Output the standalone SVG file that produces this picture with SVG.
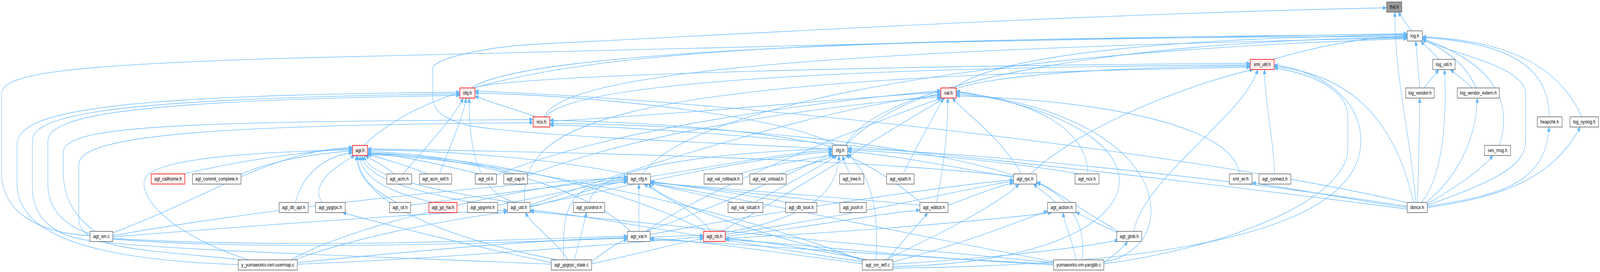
<svg xmlns="http://www.w3.org/2000/svg" width="5279" height="696" viewBox="0 0 5279 696" preserveAspectRatio="none" style="width:100%;height:100%">
<style>
.e{fill:none;stroke:#63b8ff;stroke-width:1.33;marker-end:url(#ah)}
.n rect{fill:#ffffff;stroke:#666666;stroke-width:1.6}
.r rect{fill:#fff0f0;stroke:#ff0000}
.root rect{fill:#999999}
text{font-family:"Liberation Sans",Arial,sans-serif;font-size:13.33px;text-anchor:middle;fill:#000000}
</style>
<defs>
<marker id="ah" markerUnits="userSpaceOnUse" markerWidth="13" markerHeight="10" refX="12" refY="5" orient="auto" viewBox="0 0 13 10">
<path d="M0,0 L12,5 L0,10 z" fill="#63b8ff" stroke="#63b8ff"/>
</marker>
</defs>
<rect x="0" y="0" width="5279" height="696" fill="#ffffff"/>
<g id="edges">
<path class="e" d="M4657,79 C4642,62 4626,46 4613,31"/>
<path class="e" d="M4672,518 C4650,330 4602,200 4602,31"/>
<path class="e" d="M2746,382 C2400,365 1800,352 1550,322 C1460,305 1428,280 1428,250 L1428,175 C1428,150 1600,120 1770,113 C2500,85 3600,35 4575,20"/>
<path class="e" d="M297,603 C120,596 5,540 5,440 L5,240 C5,190 200,165 1000,148 C2000,125 3500,100 4643,86"/>
<path class="e" d="M4677,518 C4680,420 4684,320 4684,251"/>
<path class="e" d="M4690,518 C4772,440 4772,260 4766,178"/>
<path class="e" d="M4705,518 C4800,460 4872,360 4874,251"/>
<path class="e" d="M4709,522 C4800,480 4880,440 4926,398"/>
<path class="e" d="M4709,525 C4950,460 5034,420 5034,360 L5034,240 C5034,170 4800,140 4693,101"/>
<path class="e" d="M4709,528 C4950,500 5100,470 5111,325"/>
<path class="e" d="M4709,531 C4950,505 5120,460 5214,325"/>
<path class="e" d="M4748,152 C4730,135 4705,120 4688,105"/>
<path class="e" d="M4684,225 C4680,180 4675,140 4671,105"/>
<path class="e" d="M4870,225 C4840,170 4780,130 4693,101"/>
<path class="e" d="M4947,372 C4985,280 4960,170 4693,99"/>
<path class="e" d="M5112,299 C5110,180 5000,110 4693,96"/>
<path class="e" d="M5219,299 C5150,180 5000,105 4693,94"/>
<path class="e" d="M4698,225 C4720,205 4735,190 4747,178"/>
<path class="e" d="M4858,225 C4830,205 4805,190 4785,178"/>
<path class="e" d="M4200,152 C4350,118 4500,95 4643,92"/>
<path class="e" d="M1555,225 C1700,150 2500,100 4643,88"/>
<path class="e" d="M3150,225 C3300,130 4000,95 4643,90"/>
<path class="e" d="M1200,372 C1500,150 2200,95 4643,94"/>
<path class="e" d="M2790,372 C2900,200 3800,100 4643,96"/>
<path class="e" d="M1795,299 C1850,200 2500,130 4643,97"/>
<path class="e" d="M2120,445 C2250,300 3000,140 4643,99"/>
<path class="e" d="M1562,225 C1700,190 3000,168 4125,162"/>
<path class="e" d="M1800,299 C1900,200 3000,172 4125,166"/>
<path class="e" d="M3152,228 C3300,185 3800,170 4125,169"/>
<path class="e" d="M1730,518 C1725,330 1900,200 4125,172"/>
<path class="e" d="M4206,445 C4200,350 4172,250 4172,178"/>
<path class="e" d="M4664,518 C4600,300 4450,190 4204,170"/>
<path class="e" d="M3740,592 C3780,450 4100,300 4150,178"/>
<path class="e" d="M3642,675 C4000,640 4447,520 4447,380 L4447,300 C4447,220 4300,185 4204,174"/>
<path class="e" d="M2946,686 C3800,680 4490,600 4490,360 C4490,250 4350,180 4204,166"/>
<path class="e" d="M3400,445 C3600,300 4000,200 4135,178"/>
<path class="e" d="M1768,299 C1700,280 1620,262 1567,246"/>
<path class="e" d="M1330,445 C1400,380 1500,300 1528,251"/>
<path class="e" d="M1450,445 C1480,380 1530,300 1538,251"/>
<path class="e" d="M1700,518 C1560,490 1548,350 1548,251"/>
<path class="e" d="M786,677 C300,665 56,600 56,470 L56,370 C56,280 400,244 1517,236"/>
<path class="e" d="M1819,676 C1200,655 500,640 274,613 C180,600 107,560 107,480 L107,360 C107,290 400,252 1517,240"/>
<path class="e" d="M297,598 C220,580 158,540 158,470 L158,360 C158,290 500,256 1517,244"/>
<path class="e" d="M2760,372 C2600,300 2000,245 1567,238"/>
<path class="e" d="M4650,520 C4000,400 2500,260 1567,233"/>
<path class="e" d="M2790,372 C2850,320 3000,250 3104,240"/>
<path class="e" d="M2980,445 C3020,380 3080,300 3112,251"/>
<path class="e" d="M3090,518 C3120,400 3127,320 3127,251"/>
<path class="e" d="M3589,445 C3590,330 3400,250 3155,241"/>
<path class="e" d="M3370,445 C3300,350 3200,300 3142,251"/>
<path class="e" d="M4090,445 C4070,330 3700,260 3155,245"/>
<path class="e" d="M2380,592 C2600,500 3000,300 3118,251"/>
<path class="e" d="M2130,592 C2400,450 3000,280 3106,251"/>
<path class="e" d="M3642,670 C3900,640 3900,300 3155,236"/>
<path class="e" d="M2946,682 C3850,670 3950,330 3155,233"/>
<path class="e" d="M1749,525 C2200,400 2800,262 3104,244"/>
<path class="e" d="M1814,310 C2300,290 2800,250 3104,236"/>
<path class="e" d="M1638,448 C2000,330 2700,260 3104,232"/>
<path class="e" d="M1740,450 C2100,340 2700,270 3104,248"/>
<path class="e" d="M312,592 C260,560 209,520 209,440 L209,390 C209,320 600,312 1759,306"/>
<path class="e" d="M800,665 C500,640 260,640 260,560 L260,420 C260,340 800,320 1759,314"/>
<path class="e" d="M2750,376 C2500,330 2100,312 1814,308"/>
<path class="e" d="M3350,450 C3000,360 2300,318 1814,316"/>
<path class="e" d="M4643,535 C4000,470 2500,330 1814,320"/>
<path class="e" d="M605,445 C800,410 1000,388 1163,380"/>
<path class="e" d="M790,447 C900,410 1050,392 1163,386"/>
<path class="e" d="M975,518 C1000,440 1080,398 1163,391"/>
<path class="e" d="M1300,445 C1270,425 1230,410 1205,398"/>
<path class="e" d="M1410,445 C1330,420 1260,405 1213,395"/>
<path class="e" d="M1580,445 C1450,420 1300,395 1213,391"/>
<path class="e" d="M1700,445 C1550,410 1350,390 1213,388"/>
<path class="e" d="M1063,518 C1020,470 1110,425 1170,398"/>
<path class="e" d="M1310,518 C1250,495 1180,460 1180,398"/>
<path class="e" d="M1430,518 C1300,495 1190,460 1188,398"/>
<path class="e" d="M1560,518 C1400,495 1200,460 1195,398"/>
<path class="e" d="M1690,518 C1500,495 1210,460 1202,398"/>
<path class="e" d="M2080,448 C1800,400 1400,384 1213,384"/>
<path class="e" d="M372,596 C700,500 900,385 1163,377"/>
<path class="e" d="M820,665 C560,600 450,500 480,455 C520,400 900,388 1163,383"/>
<path class="e" d="M1840,665 C1400,600 1180,500 1175,398"/>
<path class="e" d="M3350,452 C2800,400 1600,386 1213,381"/>
<path class="e" d="M2080,592 C1900,450 1400,390 1213,392"/>
<path class="e" d="M2330,592 C2000,460 1500,394 1213,394"/>
<path class="e" d="M2850,668 C2300,500 1500,398 1213,396"/>
<path class="e" d="M2146,452 C2400,420 2600,390 2746,384"/>
<path class="e" d="M2440,445 C2550,420 2680,405 2748,396"/>
<path class="e" d="M2570,445 C2650,425 2720,410 2756,398"/>
<path class="e" d="M2804,445 C2795,430 2785,415 2781,398"/>
<path class="e" d="M2490,518 C2600,470 2720,420 2762,398"/>
<path class="e" d="M2393,595 C2650,560 2765,500 2768,398"/>
<path class="e" d="M2890,665 C2900,550 2880,450 2797,394"/>
<path class="e" d="M3350,455 C3100,420 2900,392 2797,388"/>
<path class="e" d="M3560,445 C3300,410 2950,388 2797,384"/>
<path class="e" d="M2130,592 C2400,520 2650,430 2746,392"/>
<path class="e" d="M1749,528 C2100,470 2500,400 2746,388"/>
<path class="e" d="M4643,528 C4000,450 3200,390 2797,380"/>
<path class="e" d="M3040,520 C2950,460 2850,415 2790,398"/>
<path class="e" d="M1945,518 C1960,420 2400,390 2746,380"/>
<path class="e" d="M2108,592 L2108,471"/>
<path class="e" d="M2345,592 C2300,540 2180,500 2125,471"/>
<path class="e" d="M2420,518 C2300,495 2200,480 2146,468"/>
<path class="e" d="M2600,518 C2400,490 2200,470 2146,464"/>
<path class="e" d="M2780,520 C2500,495 2250,475 2146,466"/>
<path class="e" d="M1749,530 C1900,500 2000,470 2070,463"/>
<path class="e" d="M1355,525 C1700,490 1950,465 2070,458"/>
<path class="e" d="M1642,525 C1850,495 1980,466 2070,460"/>
<path class="e" d="M372,603 C900,530 1700,465 2070,455"/>
<path class="e" d="M960,665 C1200,560 1800,470 2070,452"/>
<path class="e" d="M1860,665 C1855,560 1870,500 1950,480 C2000,468 2040,466 2070,466"/>
<path class="e" d="M2860,665 C2500,600 2200,520 2140,471"/>
<path class="e" d="M3480,670 C3000,600 2400,500 2146,469"/>
<path class="e" d="M3035,525 C2700,500 2300,478 2146,467"/>
<path class="e" d="M3482,518 C3460,500 3430,485 3410,471"/>
<path class="e" d="M3690,592 C3550,530 3470,480 3420,466"/>
<path class="e" d="M3570,665 C3590,560 3500,490 3420,468"/>
<path class="e" d="M3550,665 C3540,620 3515,580 3507,544"/>
<path class="e" d="M2920,665 C3100,600 3300,520 3362,471"/>
<path class="e" d="M3128,525 C3250,490 3300,475 3344,468"/>
<path class="e" d="M2393,600 C2900,540 3200,480 3344,463"/>
<path class="e" d="M2145,600 C2700,520 3200,470 3344,460"/>
<path class="e" d="M4643,531 C4450,510 4250,480 4131,468"/>
<path class="e" d="M1873,665 C1840,620 1760,580 1733,544"/>
<path class="e" d="M372,606 C800,580 1400,545 1674,538"/>
<path class="e" d="M2850,670 C2400,620 1900,545 1749,538"/>
<path class="e" d="M3476,672 C3000,640 2000,560 1749,541"/>
<path class="e" d="M970,665 C1200,600 1500,560 1674,542"/>
<path class="e" d="M1895,665 C1910,620 1925,580 1935,544"/>
<path class="e" d="M1819,672 C1500,620 1250,570 1130,544"/>
<path class="e" d="M2393,605 C2700,580 2900,545 3035,538"/>
<path class="e" d="M2930,665 C2980,610 3040,570 3060,544"/>
<path class="e" d="M3690,596 C3620,572 3580,556 3550,542"/>
<path class="e" d="M2946,670 C3200,620 3380,560 3456,540"/>
<path class="e" d="M2393,610 C2900,590 3300,560 3470,544"/>
<path class="e" d="M372,610 C1000,640 1800,610 2070,604"/>
<path class="e" d="M981,672 C1400,640 1800,612 2070,608"/>
<path class="e" d="M1952,670 C2000,640 2040,620 2070,612"/>
<path class="e" d="M2845,675 C2600,650 2300,615 2145,610"/>
<path class="e" d="M3476,675 C3000,660 2400,620 2145,613"/>
<path class="e" d="M1952,675 C2100,650 2250,620 2321,610"/>
<path class="e" d="M981,676 C1500,660 2100,620 2321,606"/>
<path class="e" d="M372,612 C1000,650 2000,610 2321,602"/>
<path class="e" d="M2860,665 C2700,640 2500,615 2393,610"/>
<path class="e" d="M3476,678 C3000,660 2600,620 2393,613"/>
<path class="e" d="M3642,672 C3680,650 3710,630 3720,618"/>
<path class="e" d="M2946,676 C3300,660 3600,630 3690,614"/>
</g>
<g id="n-thd" class="n root"><rect x="4575" y="5" width="50" height="26"/><text x="4600" y="22.5">thd.h</text></g>
<g id="n-log" class="n"><rect x="4643" y="79" width="50" height="26"/><text x="4668" y="96.5">log.h</text></g>
<g id="n-log_util" class="n"><rect x="4727" y="152" width="74" height="26"/><text x="4764" y="169.5">log_util.h</text></g>
<g id="n-xml_util" class="n r"><rect x="4125" y="152" width="79" height="26"/><text x="4164.5" y="169.5">xml_util.h</text></g>
<g id="n-obj" class="n r"><rect x="1517" y="225" width="50" height="26"/><text x="1542" y="242.5">obj.h</text></g>
<g id="n-val" class="n r"><rect x="3104" y="225" width="51" height="26"/><text x="3129.5" y="242.5">val.h</text></g>
<g id="n-log_vendor" class="n"><rect x="4638" y="225" width="94" height="26"/><text x="4685" y="242.5">log_vendor.h</text></g>
<g id="n-log_vendor_extern" class="n"><rect x="4808" y="225" width="139" height="26"/><text x="4877.5" y="242.5">log_vendor_extern.h</text></g>
<g id="n-ncx" class="n r"><rect x="1759" y="299" width="55" height="26"/><text x="1786.5" y="316.5">ncx.h</text></g>
<g id="n-heapchk" class="n"><rect x="5072" y="299" width="82" height="26"/><text x="5113" y="316.5">heapchk.h</text></g>
<g id="n-log_syslog" class="n"><rect x="5180" y="299" width="94" height="26"/><text x="5227" y="316.5">log_syslog.h</text></g>
<g id="n-agt" class="n r"><rect x="1163" y="372" width="50" height="26"/><text x="1188" y="389.5">agt.h</text></g>
<g id="n-cfg" class="n"><rect x="2746" y="372" width="51" height="26"/><text x="2771.5" y="389.5">cfg.h</text></g>
<g id="n-ses_msg" class="n"><rect x="4898" y="372" width="86" height="26"/><text x="4941" y="389.5">ses_msg.h</text></g>
<g id="n-agt_callhome" class="n r"><rect x="499" y="445" width="111" height="26"/><text x="554.5" y="462.5">agt_callhome.h</text></g>
<g id="n-agt_commit_complete" class="n"><rect x="635" y="445" width="160" height="26"/><text x="715" y="462.5">agt_commit_complete.h</text></g>
<g id="n-agt_acm" class="n"><rect x="1276" y="445" width="82" height="26"/><text x="1317" y="462.5">agt_acm.h</text></g>
<g id="n-agt_acm_ietf" class="n"><rect x="1384" y="445" width="106" height="26"/><text x="1437" y="462.5">agt_acm_ietf.h</text></g>
<g id="n-agt_cli" class="n"><rect x="1568" y="445" width="70" height="26"/><text x="1603" y="462.5">agt_cli.h</text></g>
<g id="n-agt_cap" class="n"><rect x="1662" y="445" width="78" height="26"/><text x="1701" y="462.5">agt_cap.h</text></g>
<g id="n-agt_cfg" class="n"><rect x="2070" y="445" width="76" height="26"/><text x="2108" y="462.5">agt_cfg.h</text></g>
<g id="n-agt_val_rollback" class="n"><rect x="2323" y="445" width="127" height="26"/><text x="2386.5" y="462.5">agt_val_rollback.h</text></g>
<g id="n-agt_val_unload" class="n"><rect x="2474" y="445" width="120" height="26"/><text x="2534" y="462.5">agt_val_unload.h</text></g>
<g id="n-agt_tree" class="n"><rect x="2770" y="445" width="80" height="26"/><text x="2810" y="462.5">agt_tree.h</text></g>
<g id="n-agt_xpath" class="n"><rect x="2925" y="445" width="91" height="26"/><text x="2970.5" y="462.5">agt_xpath.h</text></g>
<g id="n-agt_rpc" class="n"><rect x="3344" y="445" width="76" height="26"/><text x="3382" y="462.5">agt_rpc.h</text></g>
<g id="n-agt_ncx" class="n"><rect x="3547" y="445" width="79" height="26"/><text x="3586.5" y="462.5">agt_ncx.h</text></g>
<g id="n-xml_wr" class="n"><rect x="4056" y="445" width="75" height="26"/><text x="4093.5" y="462.5">xml_wr.h</text></g>
<g id="n-agt_connect" class="n"><rect x="4154" y="445" width="105" height="26"/><text x="4206.5" y="462.5">agt_connect.h</text></g>
<g id="n-agt_db_api" class="n"><rect x="921" y="518" width="96" height="26"/><text x="969" y="535.5">agt_db_api.h</text></g>
<g id="n-agt_ypgrpc" class="n"><rect x="1041" y="518" width="98" height="26"/><text x="1090" y="535.5">agt_ypgrpc.h</text></g>
<g id="n-agt_sil" class="n"><rect x="1285" y="518" width="70" height="26"/><text x="1320" y="535.5">agt_sil.h</text></g>
<g id="n-agt_yp_ha" class="n r"><rect x="1415" y="518" width="93" height="26"/><text x="1461.5" y="535.5">agt_yp_ha.h</text></g>
<g id="n-agt_ypgnmi" class="n"><rect x="1542" y="518" width="100" height="26"/><text x="1592" y="535.5">agt_ypgnmi.h</text></g>
<g id="n-agt_util" class="n"><rect x="1674" y="518" width="75" height="26"/><text x="1711.5" y="535.5">agt_util.h</text></g>
<g id="n-agt_ycontrol" class="n"><rect x="1892" y="518" width="103" height="26"/><text x="1943.5" y="535.5">agt_ycontrol.h</text></g>
<g id="n-agt_val_silcall" class="n"><rect x="2402" y="518" width="115" height="26"/><text x="2459.5" y="535.5">agt_val_silcall.h</text></g>
<g id="n-agt_db_lock" class="n"><rect x="2592" y="518" width="103" height="26"/><text x="2643.5" y="535.5">agt_db_lock.h</text></g>
<g id="n-agt_push" class="n"><rect x="2771" y="518" width="87" height="26"/><text x="2814.5" y="535.5">agt_push.h</text></g>
<g id="n-agt_editcb" class="n"><rect x="3035" y="518" width="93" height="26"/><text x="3081.5" y="535.5">agt_editcb.h</text></g>
<g id="n-agt_action" class="n"><rect x="3456" y="518" width="94" height="26"/><text x="3503" y="535.5">agt_action.h</text></g>
<g id="n-libncx" class="n"><rect x="4643" y="518" width="66" height="26"/><text x="4676" y="535.5">libncx.h</text></g>
<g id="n-agt_sm" class="n"><rect x="297" y="592" width="75" height="26"/><text x="334.5" y="609.5">agt_sm.c</text></g>
<g id="n-agt_val" class="n"><rect x="2070" y="592" width="75" height="26"/><text x="2107.5" y="609.5">agt_val.h</text></g>
<g id="n-agt_cb" class="n r"><rect x="2321" y="592" width="72" height="26"/><text x="2357" y="609.5">agt_cb.h</text></g>
<g id="n-agt_glob" class="n"><rect x="3685" y="592" width="82" height="26"/><text x="3726" y="609.5">agt_glob.h</text></g>
<g id="n-cert_usermap" class="n"><rect x="786" y="665" width="195" height="26"/><text x="883.5" y="682.5">y_yumaworks-cert-usermap.c</text></g>
<g id="n-agt_ypgrpc_state" class="n"><rect x="1819" y="665" width="133" height="26"/><text x="1885.5" y="682.5">agt_ypgrpc_state.c</text></g>
<g id="n-agt_sm_ietf" class="n"><rect x="2845" y="665" width="101" height="26"/><text x="2895.5" y="682.5">agt_sm_ietf.c</text></g>
<g id="n-sm_yanglib" class="n"><rect x="3476" y="665" width="166" height="26"/><text x="3559" y="682.5">yumaworks-sm-yanglib.c</text></g>
</svg>
